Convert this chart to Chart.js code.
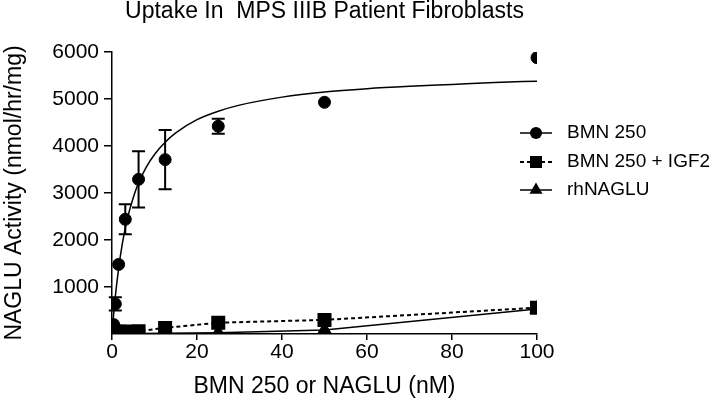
<!DOCTYPE html>
<html>
<head>
<meta charset="utf-8">
<script src="https://cdn.jsdelivr.net/npm/chart.js@4.4.1/dist/chart.umd.min.js"></script>
<style>
  html, body { margin: 0; padding: 0; background: #fff; }
</style>
</head>
<body>
<canvas id="uptakeChart" width="714" height="400"></canvas>
<script>
// concentrations (nM)
const concX = [0.39, 0.78, 1.56, 3.125, 6.25, 12.5, 25, 50, 100];
const bmn250 = [200, 640, 1480, 2440, 3290, 3710, 4420, 4930, 5880];
const bmn250Err = [0, 140, 0, 320, 600, 630, 160, 0, 0];
const bmnIgf2 = [40, 45, 50, 55, 60, 130, 240, 300, 560];
const rhNaglu = [10, 10, 10, 10, 12, 15, 25, 85, 530];

// fitted curve
const fitX = [0, 0.5, 1, 2, 3, 4, 5, 6, 8, 10, 12.5, 15, 20, 25, 30, 40, 50, 60, 70, 80, 90, 100];
const fitY = [0, 540, 980, 1680, 2200, 2590, 2900, 3160, 3540, 3820, 4080, 4280, 4560, 4740, 4870, 5040, 5150, 5220, 5270, 5310, 5350, 5380];

const xTicks = [0, 20, 40, 60, 80, 100];
const yTicks = [1000, 2000, 3000, 4000, 5000, 6000];
const seriesNames = ['BMN 250', 'BMN 250 + IGF2', 'rhNAGLU'];

const FONT = 'Liberation Sans, Arial, Helvetica, sans-serif';

const toPts = (xs, ys) => xs.map((x, i) => ({ x: x, y: ys[i] }));

// error bars for the BMN 250 points
const errorBars = {
    id: 'errorBars',
    afterDatasetsDraw(chart) {
        const ctx = chart.ctx;
        const xs = chart.scales.x, ys = chart.scales.y;
        ctx.save();
        ctx.strokeStyle = '#000';
        ctx.lineWidth = 2;
        concX.forEach((x, i) => {
            const e = bmn250Err[i];
            if (!e) return;
            const px = xs.getPixelForValue(x);
            const top = ys.getPixelForValue(bmn250[i] + e);
            const bot = ys.getPixelForValue(bmn250[i] - e);
            ctx.beginPath();
            ctx.moveTo(px, top); ctx.lineTo(px, bot);
            ctx.moveTo(px - 6.5, top); ctx.lineTo(px + 6.5, top);
            ctx.moveTo(px - 6.5, bot); ctx.lineTo(px + 6.5, bot);
            ctx.stroke();
        });
        ctx.restore();
    }
};

// legend with a line through each marker
const sideLegend = {
    id: 'sideLegend',
    afterDraw(chart) {
        const ctx = chart.ctx;
        const rows = [133, 162, 190];
        const styles = ['circle', 'rect', 'triangle'];
        const radii = [6, 8.5, 7.5];
        ctx.save();
        rows.forEach((y, i) => {
            ctx.strokeStyle = '#000';
            ctx.lineWidth = i === 1 ? 2 : 1.5;
            ctx.setLineDash(i === 1 ? [4, 3] : []);
            ctx.beginPath();
            ctx.moveTo(520, y); ctx.lineTo(552, y);
            ctx.stroke();
            ctx.setLineDash([]);
            ctx.fillStyle = '#000';
            Chart.helpers.drawPoint(ctx, { pointStyle: styles[i], radius: radii[i], borderWidth: 0 }, 536, y);
            ctx.fillStyle = '#000';
            ctx.font = '19px ' + FONT;
            ctx.textBaseline = 'middle';
            ctx.textAlign = 'left';
            ctx.fillText(seriesNames[i], 567, y);
        });
        ctx.restore();
    }
};

new Chart(document.getElementById('uptakeChart'), {
    type: 'scatter',
    data: {
        datasets: [
            {
                label: 'fit',
                data: toPts(fitX, fitY),
                showLine: true,
                pointRadius: 0,
                borderColor: '#000',
                borderWidth: 1.5,
                cubicInterpolationMode: 'monotone'
            },
            {
                label: seriesNames[0],
                data: toPts(concX, bmn250),
                showLine: false,
                pointStyle: 'circle',
                pointRadius: 6,
                backgroundColor: '#000',
                borderColor: '#000'
            },
            {
                label: seriesNames[1],
                data: toPts(concX, bmnIgf2),
                showLine: true,
                borderDash: [4, 3],
                borderWidth: 2,
                pointStyle: 'rect',
                pointRadius: 8.5,
                backgroundColor: '#000',
                borderColor: '#000'
            },
            {
                label: seriesNames[2],
                data: toPts(concX, rhNaglu),
                showLine: true,
                borderWidth: 1.5,
                pointStyle: 'triangle',
                pointRadius: 7.5,
                backgroundColor: '#000',
                borderColor: '#000'
            }
        ]
    },
    options: {
        responsive: false,
        animation: false,
        layout: { padding: { top: 0, left: 0, right: 177, bottom: 0 } },
        plugins: {
            legend: { display: false },
            tooltip: { enabled: false },
            title: {
                display: true,
                text: 'Uptake In  MPS IIIB Patient Fibroblasts',
                color: '#000',
                fullSize: false,
                font: { family: FONT, size: 23, weight: 'normal', lineHeight: 1 },
                padding: { top: 0, bottom: 29 }
            }
        },
        scales: {
            x: {
                type: 'linear',
                min: 0,
                max: 100,
                afterFit: s => { s.height = 66; },
                afterBuildTicks: s => { s.ticks = xTicks.map(v => ({ value: v })); },
                border: { display: true, color: '#000', width: 1.5 },
                grid: { drawOnChartArea: false, drawTicks: true, tickLength: 6, color: '#000', lineWidth: 1.5 },
                ticks: { color: '#000', padding: 0, font: { family: FONT, size: 21 }, callback: v => String(v) },
                title: {
                    display: true,
                    text: 'BMN 250 or NAGLU (nM)',
                    color: '#000',
                    padding: { top: 0, bottom: 0 },
                    font: { family: FONT, size: 23 }
                }
            },
            y: {
                type: 'linear',
                min: 0,
                max: 6000,
                afterFit: s => { s.width = 112; },
                afterBuildTicks: s => { s.ticks = yTicks.map(v => ({ value: v })); },
                border: { display: true, color: '#000', width: 1.5 },
                grid: { drawOnChartArea: false, drawTicks: true, tickLength: 8, color: '#000', lineWidth: 1.5 },
                ticks: { color: '#000', padding: 5, font: { family: FONT, size: 21 }, callback: v => String(v) },
                title: {
                    display: true,
                    text: 'NAGLU Activity (nmol/hr/mg)',
                    color: '#000',
                    padding: { top: 1, bottom: 0 },
                    font: { family: FONT, size: 23 }
                }
            }
        }
    },
    plugins: [errorBars, sideLegend]
});
</script>
</body>
</html>
